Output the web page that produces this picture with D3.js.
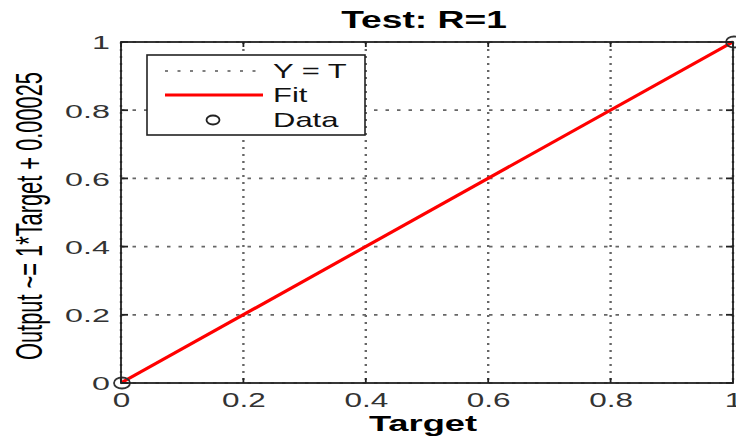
<!DOCTYPE html>
<html>
<head>
<meta charset="utf-8">
<script src="https://cdn.jsdelivr.net/npm/d3@7"></script>
<style>
  html, body { margin: 0; padding: 0; background: #fff; }
  svg { display: block; font-family: "Liberation Sans", Arial, sans-serif; }
</style>
</head>
<body>
<svg id="chart" width="736" height="439"></svg>
<script>
// ---- data ----
const xTicks = [0, 0.2, 0.4, 0.6, 0.8, 1];
const yTicks = [0, 0.2, 0.4, 0.6, 0.8, 1];
const xTickLabels = ["0", "0.2", "0.4", "0.6", "0.8", "1"];
const yTickLabels = ["0", "0.2", "0.4", "0.6", "0.8", "1"];
const dataTarget = [0, 1];
const dataOutput = [0, 1];
const fitSlope = 1;
const fitIntercept = 0.00025;
const titleText = "Test: R=1";
const xLabelText = "Target";
const yLabelText = "Output ~= 1*Target + 0.00025";
const legendLabels = ["Y = T", "Fit", "Data"];

// ---- layout ----
const L = 121, R = 733, T = 42, B = 383;
const SX = 1.55; // horizontal text stretch

const svg = d3.select("#chart");
const x = d3.scaleLinear().domain([0, 1]).range([L, R]);
const y = d3.scaleLinear().domain([0, 1]).range([B, T]);

function stretchedText(parent, px, py, txt, opts) {
  const g = parent.append("g").attr("transform", `translate(${px},${py}) scale(${opts.sx || SX},1)`);
  g.append("text")
    .attr("x", 0).attr("y", 0)
    .attr("text-anchor", opts.anchor || "start")
    .attr("font-size", opts.size || 20)
    .attr("font-weight", opts.weight || "normal")
    .attr("fill", opts.fill || "#000")
    .text(txt);
  return g;
}

// grid
const grid = svg.append("g");
grid.selectAll("line.vg").data(xTicks).join("line")
  .attr("x1", d => x(d)).attr("x2", d => x(d))
  .attr("y1", T).attr("y2", B)
  .attr("stroke", "#666").attr("stroke-width", 2.4)
  .attr("stroke-dasharray", "2,5");
grid.selectAll("line.hg").data(yTicks).join("line")
  .attr("x1", L).attr("x2", R)
  .attr("y1", d => y(d)).attr("y2", d => y(d))
  .attr("stroke", "#666").attr("stroke-width", 1.7)
  .attr("stroke-dasharray", "3.5,8");

// Y = T line
svg.append("line")
  .attr("x1", x(0)).attr("y1", y(0)).attr("x2", x(1)).attr("y2", y(1))
  .attr("stroke", "#444").attr("stroke-width", 1.5).attr("stroke-dasharray", "2,6");

// Fit line
const fitLine = d3.line().x(d => x(d)).y(d => y(fitSlope * d + fitIntercept));
svg.append("path").datum([0, 1])
  .attr("d", fitLine)
  .attr("fill", "none").attr("stroke", "#ff0000").attr("stroke-width", 3.2);

// Data points
svg.append("g").selectAll("ellipse").data(dataTarget).join("ellipse")
  .attr("cx", (d, i) => x(d) + 1).attr("cy", (d, i) => y(dataOutput[i]))
  .attr("rx", 8).attr("ry", 5.5)
  .attr("fill", "none").attr("stroke", "#333").attr("stroke-width", 1.8);

// axes box
svg.append("rect").attr("x", L).attr("y", T).attr("width", R - L).attr("height", B - T)
  .attr("fill", "none").attr("stroke", "#222").attr("stroke-width", 1.8);

// tick marks on all sides
const tk = svg.append("g").attr("stroke", "#222").attr("stroke-width", 1.8);
tk.selectAll("line.bt").data(xTicks).join("line")
  .attr("x1", d => x(d)).attr("x2", d => x(d)).attr("y1", B).attr("y2", B - 5);
tk.selectAll("line.tt").data(xTicks).join("line")
  .attr("x1", d => x(d)).attr("x2", d => x(d)).attr("y1", T).attr("y2", T + 5);
tk.selectAll("line.lt").data(yTicks).join("line")
  .attr("x1", L).attr("x2", L + 7).attr("y1", d => y(d)).attr("y2", d => y(d));
tk.selectAll("line.rt").data(yTicks).join("line")
  .attr("x1", R).attr("x2", R - 7).attr("y1", d => y(d)).attr("y2", d => y(d));

// axes labels via d3 axes
const xAxis = d3.axisBottom(x).tickValues(xTicks).tickFormat((d, i) => xTickLabels[i]).tickSize(0);
const gx = svg.append("g").attr("transform", `translate(0,${B})`).call(xAxis);
gx.select(".domain").remove();
gx.selectAll("text")
  .attr("y", 24).attr("dy", 0)
  .attr("transform", "scale(1.5,1)")
  .attr("font-size", 21).attr("fill", "#333")
  .attr("font-family", "Liberation Sans, Arial, sans-serif");

const yAxis = d3.axisLeft(y).tickValues(yTicks).tickFormat((d, i) => yTickLabels[i]).tickSize(0);
const gy = svg.append("g").attr("transform", `translate(${L},0)`).call(yAxis);
gy.select(".domain").remove();
gy.selectAll("text")
  .attr("x", -11 / 1.7).attr("dy", "0.36em")
  .attr("transform", "scale(1.7,1)")
  .attr("font-size", 19).attr("fill", "#333")
  .attr("font-family", "Liberation Sans, Arial, sans-serif");

// title
stretchedText(svg, (L + R) / 2 - 3, 28, titleText, { anchor: "middle", size: 24, weight: "bold", sx: 1.55 });
// x label
stretchedText(svg, (L + R) / 2 - 4, 431, xLabelText, { anchor: "middle", size: 22, weight: "bold", sx: 1.65 });
// y label
svg.append("text")
  .attr("transform", `translate(42,216) scale(1.8,1) rotate(-90)`)
  .attr("text-anchor", "middle")
  .attr("font-size", 21)
  .attr("textLength", 288).attr("lengthAdjust", "spacingAndGlyphs")
  .attr("fill", "#000")
  .text(yLabelText);

// legend
const lg = svg.append("g");
lg.append("rect").attr("x", 147).attr("y", 55).attr("width", 218).attr("height", 80)
  .attr("fill", "#fff").attr("stroke", "#222").attr("stroke-width", 1.6);
const rowY = [71, 95, 120];
lg.append("line").attr("x1", 165).attr("x2", 263).attr("y1", rowY[0]).attr("y2", rowY[0])
  .attr("stroke", "#555").attr("stroke-width", 1.6).attr("stroke-dasharray", "3,9.5");
lg.append("line").attr("x1", 165).attr("x2", 263).attr("y1", rowY[1]).attr("y2", rowY[1])
  .attr("stroke", "#ff0000").attr("stroke-width", 3.2);
lg.append("ellipse").attr("cx", 213).attr("cy", rowY[2]).attr("rx", 6.5).attr("ry", 4.5)
  .attr("fill", "none").attr("stroke", "#222").attr("stroke-width", 1.8);
legendLabels.forEach((lab, i) => {
  stretchedText(lg, 273, rowY[i] + 7, lab, { size: 20, fill: "#111", sx: 1.55 });
});
</script>
</body>
</html>
